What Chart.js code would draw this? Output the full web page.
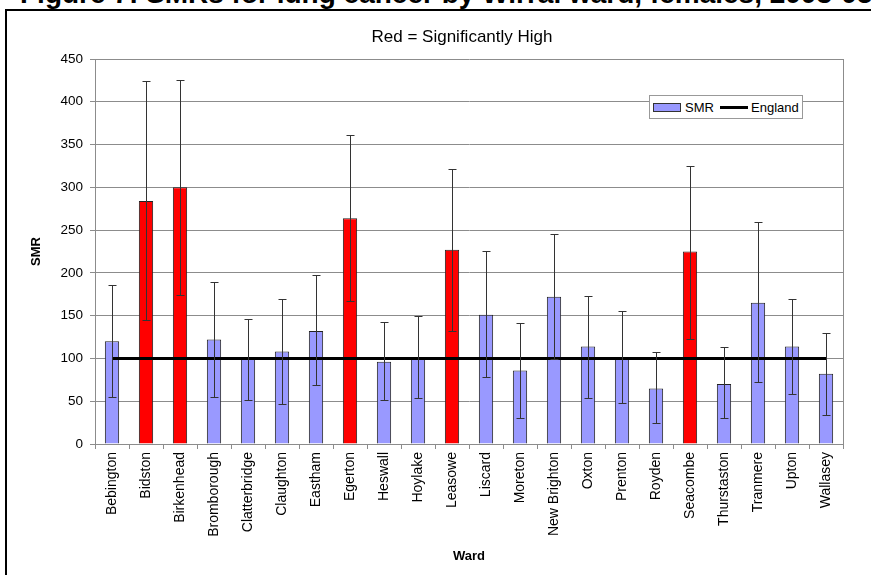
<!DOCTYPE html>
<html>
<head>
<meta charset="utf-8">
<script src="https://cdn.jsdelivr.net/npm/chart.js@4/dist/chart.umd.min.js"></script>
<style>
  body { margin: 0; background: #fff; font-family: Arial, "Liberation Sans", sans-serif; }
  #wrap { position: relative; width: 871px; height: 575px; overflow: hidden; }
  #heading { position: absolute; left: 20px; top: -20px; font-size: 28px; line-height: 28px; font-weight: bold; white-space: nowrap; color: #000; }
  #frame { position: absolute; left: 5px; top: 9px; width: 900px; height: 600px; border-left: 2px solid #000; border-top: 2px solid #000; }
  #chart { position: absolute; left: 0; top: 0; }
  #legend { position: absolute; left: 649px; top: 95px; width: 154px; height: 24px; box-sizing: border-box;
            border: 1px solid #999; background: #fff; font-size: 13px; color: #000; }
  #legend span { position: absolute; }
</style>
</head>
<body>
<div id="wrap">
  <div id="heading">Figure 7: SMRs for lung cancer by Wirral ward, females, 2003-05</div>
  <div id="frame"></div>
  <canvas id="chart" width="871" height="575"></canvas>
  <div id="legend">
    <span style="left:3px;top:7px;width:26px;height:7px;background:#9999ff;border:1px solid #333;"></span>
    <span style="left:35px;top:4px;">SMR</span>
    <span style="left:70px;top:10px;width:28px;height:3px;background:#000;"></span>
    <span style="left:101px;top:4px;">England</span>
  </div>
</div>
<script>
// ward names along the x axis
const wards = ['Bebington', 'Bidston', 'Birkenhead', 'Bromborough', 'Clatterbridge', 'Claughton',
  'Eastham', 'Egerton', 'Heswall', 'Hoylake', 'Leasowe', 'Liscard', 'Moreton', 'New Brighton',
  'Oxton', 'Prenton', 'Royden', 'Seacombe', 'Thurstaston', 'Tranmere', 'Upton', 'Wallasey'];

// SMR per ward and the confidence limits
const smr      = [120, 284, 300, 122, 100, 108, 132, 264,  96, 101, 227, 151,  86, 172, 114, 100,  65, 225,  70, 165, 114,  82];
const lowerCI  = [ 55, 145, 174,  55,  52,  47,  69, 167,  51,  54, 132,  78,  30,  99,  54,  48,  25, 123,  30,  72,  58,  34];
const upperCI  = [186, 424, 426, 189, 146, 169, 198, 361, 143, 150, 322, 226, 142, 246, 173, 155, 107, 325, 113, 259, 169, 130];

// true = significantly high (drawn red)
const sigHigh  = [false, true, true, false, false, false, false, true, false, false, true,
  false, false, false, false, false, false, true, false, false, false, false];

// England reference line
const england  = [100, 100, 100, 100, 100, 100, 100, 100, 100, 100, 100, 100, 100, 100, 100, 100, 100, 100, 100, 100, 100, 100];

const yTicks = [0, 50, 100, 150, 200, 250, 300, 350, 400, 450];

const gridGrey = '#8c8c8c';

// error bars for the SMR bars
const errorBars = {
  id: 'errorBars',
  afterDatasetsDraw(chart) {
    const ctx = chart.ctx;
    const x = chart.scales.x, y = chart.scales.y;
    ctx.save();
    ctx.strokeStyle = '#333';
    ctx.lineWidth = 1;
    wards.forEach((w, i) => {
      const px = Math.round(x.getPixelForValue(i)) + 0.5;
      const hi = Math.round(y.getPixelForValue(upperCI[i])) + 0.5;
      const lo = Math.round(y.getPixelForValue(lowerCI[i])) + 0.5;
      ctx.beginPath();
      ctx.moveTo(px, hi); ctx.lineTo(px, lo);
      ctx.moveTo(px - 4, hi); ctx.lineTo(px + 4, hi);
      ctx.moveTo(px - 4, lo); ctx.lineTo(px + 4, lo);
      ctx.stroke();
    });
    ctx.restore();
  }
};

// plot border on the right + the small title above the plot
const plotFrame = {
  id: 'plotFrame',
  beforeDatasetsDraw(chart) {
    const {ctx, chartArea} = chart;
    ctx.save();
    ctx.strokeStyle = gridGrey;
    ctx.lineWidth = 1;
    ctx.beginPath();
    ctx.moveTo(Math.round(chartArea.right) + 0.5, chartArea.top);
    ctx.lineTo(Math.round(chartArea.right) + 0.5, chartArea.bottom);
    ctx.stroke();
    ctx.restore();
  },
  afterDraw(chart) {
    const ctx = chart.ctx;
    ctx.save();
    ctx.fillStyle = '#000';
    ctx.font = '17px Arial, "Liberation Sans", sans-serif';
    ctx.textAlign = 'center';
    ctx.textBaseline = 'middle';
    ctx.fillText('Red = Significantly High', 462, 37);
    ctx.restore();
  }
};

new Chart(document.getElementById('chart'), {
  type: 'bar',
  data: {
    labels: wards,
    datasets: [
      {
        type: 'line',
        label: 'England',
        data: england,
        borderColor: '#000',
        borderWidth: 3,
        pointRadius: 0,
        order: 0
      },
      {
        label: 'SMR',
        data: smr,
        backgroundColor: sigHigh.map(s => s ? '#ff0000' : '#9999ff'),
        borderColor: '#222',
        borderWidth: 1,
        barPercentage: 0.42,
        categoryPercentage: 1,
        order: 1
      }
    ]
  },
  options: {
    responsive: false,
    animation: false,
    layout: { padding: { top: 59, right: 28, bottom: 0, left: 0 } },
    plugins: {
      legend: { display: false },
      tooltip: { enabled: false }
    },
    scales: {
      x: {
        grid: { drawOnChartArea: false, drawTicks: true, tickLength: 5, color: gridGrey, offset: true },
        border: { color: gridGrey },
        ticks: {
          autoSkip: false, minRotation: 90, maxRotation: 90, padding: 3,
          color: '#000', font: { family: 'Arial', size: 14 }
        },
        title: {
          display: true, text: 'Ward', color: '#000',
          font: { family: 'Arial', size: 13, weight: 'bold' },
          padding: { top: 0, bottom: 11 }
        },
        afterFit: s => { s.height = 131; }
      },
      y: {
        min: 0, max: 450,
        afterBuildTicks: s => { s.ticks = yTicks.map(v => ({ value: v })); },
        grid: { color: gridGrey, tickLength: 5 },
        border: { color: gridGrey },
        ticks: { padding: 7, color: '#000', font: { family: 'Arial', size: 13.5 } },
        title: {
          display: true, text: 'SMR', color: '#000',
          font: { family: 'Arial', size: 13, weight: 'bold' },
          padding: { top: 29, bottom: 0 }
        },
        afterFit: s => { s.width = 95; }
      }
    }
  },
  plugins: [errorBars, plotFrame]
});
</script>
</body>
</html>
